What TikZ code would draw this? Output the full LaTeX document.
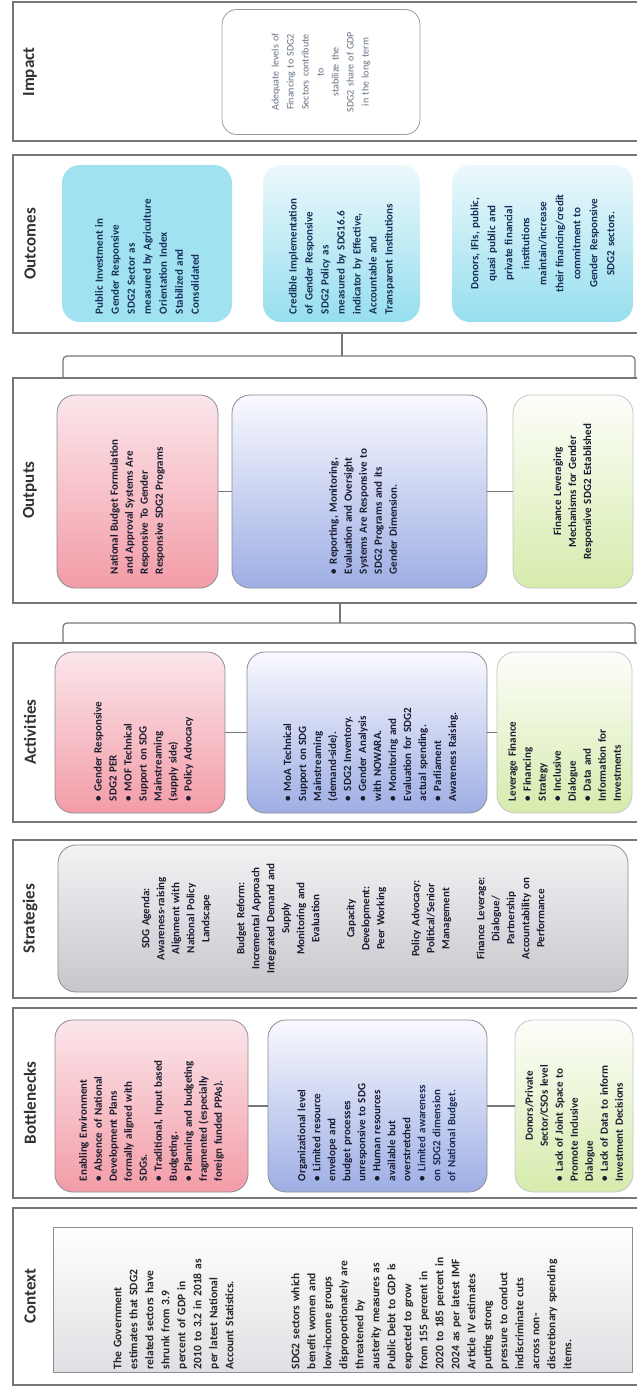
\documentclass[tikz,border=0pt]{standalone}
\usepackage{fontspec}
\setmainfont{Carlito}
\definecolor{framegray}{RGB}{118,118,120}
\definecolor{boxgray}{RGB}{140,140,146}
\definecolor{headtext}{RGB}{50,50,52}
\definecolor{inktext}{RGB}{26,28,48}
\definecolor{navytext}{RGB}{24,46,88}
\definecolor{impacttext}{RGB}{100,114,130}
\definecolor{redtop}{RGB}{251,230,235}
\definecolor{redbottom}{RGB}{243,156,167}
\definecolor{bluetop}{RGB}{249,249,254}
\definecolor{bluebottom}{RGB}{158,174,228}
\definecolor{greentop}{RGB}{253,254,250}
\definecolor{greenbottom}{RGB}{214,235,172}
\definecolor{greytop}{RGB}{243,243,245}
\definecolor{greybottom}{RGB}{198,198,204}
\definecolor{cyantop}{RGB}{236,249,252}
\definecolor{cyanbottom}{RGB}{150,222,238}
\definecolor{cyanfill}{RGB}{160,226,240}
\definecolor{ctxbottom}{RGB}{224,224,228}

\tikzstyle{frameline} = [draw=framegray, line width=1.4pt]
\tikzstyle{bracket} = [draw=framegray, line width=1.2pt, rounded corners=4pt]
\tikzstyle{link} = [draw=framegray, line width=1.2pt]
\tikzstyle{header} = [rotate=90, text=headtext, font=\fontsize{17}{20}\selectfont\bfseries]
\tikzstyle{card} = [rectangle, rotate=90, rounded corners=18pt, draw=boxgray, line width=0.8pt, inner sep=0pt, align=left, text=inktext, font=\fontsize{11}{15}\selectfont\bfseries]
\tikzstyle{redcard} = [card, top color=redtop, bottom color=redbottom]
\tikzstyle{bluecard} = [card, top color=bluetop, bottom color=bluebottom]
\tikzstyle{greencard} = [card, draw=boxgray!50, top color=greentop, bottom color=greenbottom]
\tikzstyle{greycard} = [card, top color=greytop, bottom color=greybottom, align=center]
\tikzstyle{cyancard} = [card, draw=none, fill=cyanfill, text=navytext, font=\fontsize{11}{16}\selectfont\bfseries]
\tikzstyle{cyanfade} = [card, draw=none, top color=cyantop, bottom color=cyanbottom, text=navytext, font=\fontsize{11}{16}\selectfont\bfseries]
\tikzstyle{impactcard} = [card, rounded corners=15pt, draw=impacttext!70, fill=white, align=center, text=impacttext, font=\fontsize{10}{15}\selectfont]
\tikzstyle{contextcard} = [card, rounded corners=0pt, draw=boxgray, top color=white, bottom color=ctxbottom, text=black!85, font=\fontsize{11.5}{16}\selectfont\bfseries]

\newcommand{\bitem}[1]{\par\hangindent=10pt\hangafter=1\noindent\makebox[10pt][l]{\textbullet}#1\par}

\begin{document}
\begin{tikzpicture}[x=1pt, y=-1pt]
\useasboundingbox (0,0) rectangle (637,1392);

\draw [frameline] (637,2) -| (13,141) -- (637,141);
\draw [frameline] (637,155) -| (13,333) -- (637,333);
\draw [frameline] (637,378) -| (13,603) -- (637,603);
\draw [frameline] (637,643) -| (13,822) -- (637,822);
\draw [frameline] (637,840) -| (13,998) -- (637,998);
\draw [frameline] (637,1008) -| (13,1198) -- (637,1198);
\draw [frameline] (637,1208) -| (13,1385) -- (637,1385);

\node (hImpact) [header] at (30,72) {Impact};
\node (hOutcomes) [header] at (30,244) {Outcomes};
\node (hOutputs) [header] at (30,490) {Outputs};
\node (hActivities) [header] at (30,732) {Activities};
\node (hStrategies) [header] at (30,919) {Strategies};
\node (hBottlenecks) [header] at (30,1103) {Bottlenecks};
\node (hContext) [header] at (30,1296) {Context};

\node (impactBox) [impactcard, minimum width=125pt, minimum height=198pt, text width=112pt] at (321,72) {Adequate levels of\\ Financing to SDG2\\ Sectors contribute\\ to\\ stabilize the\\ SDG2 share of GDP\\ in the long term};

\node (outcomeA) [cyancard, minimum width=157pt, minimum height=170pt, text width=141pt] at (147,243.5) {Public Investment in\\ Gender Responsive\\ SDG2 Sector as\\ measured by Agriculture\\ Orientation Index\\ Stabilized and\\ Consolidated};
\node (outcomeB) [cyanfade, minimum width=157pt, minimum height=157pt, text width=141pt] at (341.5,243.5) {Credible Implementation\\ of Gender Responsive\\ SDG2 Policy as\\ measured by SDG16.6\\ indicator by Effective,\\ Accountable and\\ Transparent Institutions};
\node (outcomeC) [cyanfade, minimum width=157pt, minimum height=181pt, text width=141pt, align=center, font=\fontsize{11}{17}\selectfont\bfseries] at (542.5,243.5) {Donors, IFIs, public,\\ quasi public and\\ private financial\\ institutions\\ maintain/increase\\ their financing/credit\\ commitment to\\ Gender Responsive\\ SDG2 sectors.};

\coordinate (braceOneL) at (63,378);
\coordinate (braceOneR) at (635,378);
\coordinate (braceOneT) at (342,333);
\draw [bracket] (braceOneL) -- ++(0,-22) -| (braceOneR);
\draw [bracket] (braceOneT) -- ++(0,23);

\node (outputRed) [redcard, minimum width=193pt, minimum height=161pt, text width=165pt] at (137.5,491.5) {National Budget Formulation\\ and Approval Systems Are\\ Responsive To Gender\\ Responsive SDG2 Programs};
\node (outputBlue) [bluecard, minimum width=193pt, minimum height=255pt, text width=165pt] at (359.5,491.5) {\bitem{Reporting, Monitoring,\\ Evaluation and Oversight\\ Systems Are Responsive to\\ SDG2 Programs and its\\ Gender Dimension.}};
\node (outputGreen) [greencard, minimum width=193pt, minimum height=120pt, text width=165pt, align=center] at (573,491.5) {Finance Leveraging\\ Mechanisms for Gender\\ Responsive SDG2 Established};

\draw [link] (outputRed) -- (outputBlue);
\draw [link] (outputBlue) -- (outputGreen);

\coordinate (braceTwoL) at (63,643);
\coordinate (braceTwoR) at (635,643);
\coordinate (braceTwoT) at (340,603);
\draw [bracket] (braceTwoL) -- ++(0,-20) -| (braceTwoR);
\draw [bracket] (braceTwoT) -- ++(0,20);

\node (actRed) [redcard, minimum width=161pt, minimum height=170pt, text width=137pt] at (140,732.5) {\bitem{Gender Responsive\\ SDG2 PER}\bitem{MOF Technical\\ Support on SDG\\ Mainstreaming\\ (supply side)}\bitem{Policy Advocacy}};
\node (actBlue) [bluecard, minimum width=161pt, minimum height=240pt, text width=137pt] at (367,732.5) {\bitem{MoA Technical\\ Support on SDG\\ Mainstreaming\\ (demand-side).}\bitem{SDG2 Inventory.}\bitem{Gender Analysis\\ with NOWARA.}\bitem{Monitoring and\\ Evaluation for SDG2\\ actual spending.}\bitem{Parliament\\ Awareness Raising.}};
\node (actGreen) [greencard, minimum width=161pt, minimum height=135pt, text width=137pt] at (564.5,732.5) {Leverage Finance\bitem{Financing\\ Strategy}\bitem{Inclusive\\ Dialogue}\bitem{Data and\\ Information for\\ Investments}};

\draw [link] (actRed) -- (actBlue);
\draw [link] (actBlue) -- (actGreen);

\node (stratBox) [greycard, minimum width=147pt, minimum height=570pt, text width=140pt] at (343,918.5) {SDG Agenda:\\ Awareness-raising\\ Alignment with\\ National Policy\\ Landscape\\[20pt] Budget Reform:\\ Incremental Approach\\ Integrated Demand and\\ Supply\\ Monitoring and\\ Evaluation\\[20pt] Capacity\\ Development:\\ Peer Working\\[20pt] Policy Advocacy:\\ Political/Senior\\ Management\\[20pt] Finance Leverage:\\ Dialogue/\\ Partnership\\ Accountability on\\ Performance};

\node (bnRed) [redcard, minimum width=172pt, minimum height=193pt, text width=150pt] at (151.5,1106) {Enabling Environment\bitem{Absence of National\\ Development Plans\\ formally aligned with\\ SDGs.}\bitem{Traditional, Input based\\ Budgeting.}\bitem{Planning and budgeting\\ fragmented (especially\\ foreign funded PPAs).}};
\node (bnBlue) [bluecard, minimum width=172pt, minimum height=219pt, text width=150pt] at (377.5,1106) {Organizational level\bitem{Limited resource\\ envelope and\\ budget processes\\ unresponsive to SDG}\bitem{Human resources\\ available but\\ overstretched}\bitem{\color{navytext}Limited awareness\\ on SDG2 dimension\\ of National Budget.}};
\node (bnGreen) [greencard, minimum width=172pt, minimum height=118pt, text width=150pt] at (574,1106) {{\centering Donors/Private\\ Sector/CSOs level\par}\bitem{Lack of Joint Space to\\ Promote Inclusive\\ Dialogue}\bitem{Lack of Data to inform\\ Investment Decisions}};

\draw [link] (bnRed) -- (bnBlue);
\draw [link] (bnBlue) -- (bnGreen);

\node (contextBox) [contextcard, minimum width=145pt, minimum height=579pt, text width=139pt] at (342.5,1299.5) {The Government\\ estimates that SDG2\\ related sectors have\\ shrunk from 3.9\\ percent of GDP in\\ 2010 to 3.2 in 2018 as\\ per latest National\\ Account Statistics.\\[50pt] SDG2 sectors which\\ benefit women and\\ low-income groups\\ disproportionately are\\ threatened by\\ austerity measures as\\ Public Debt to GDP is\\ expected to grow\\ from 155 percent in\\ 2020 to 185 percent in\\ 2024 as per latest IMF\\ Article IV estimates\\ putting strong\\ pressure to conduct\\ indiscriminate cuts\\ across non-\\ discretionary spending\\ items.};
\end{tikzpicture}
\end{document}
